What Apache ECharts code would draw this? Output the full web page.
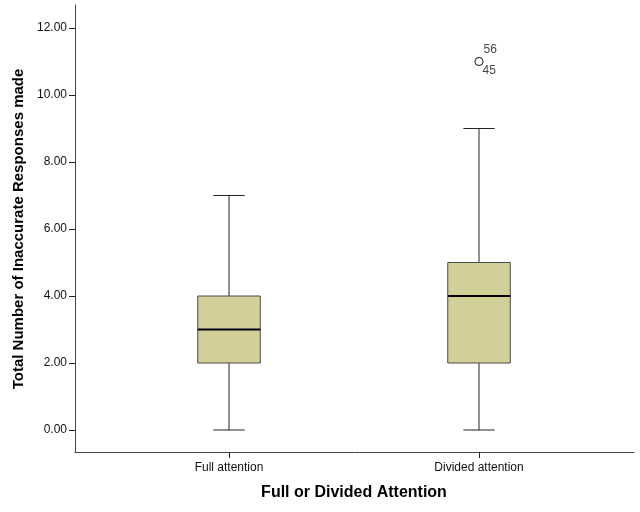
<!DOCTYPE html>
<html>
<head>
<meta charset="utf-8">
<script src="https://cdn.jsdelivr.net/npm/echarts@6/dist/echarts.min.js"></script>
<style>
  html, body { margin: 0; padding: 0; background: #fff; }
  #chart { width: 640px; height: 512px; }
</style>
</head>
<body>
<div id="chart"></div>
<script>
// groups on the x axis
var categories = ['Full attention', 'Divided attention'];
// five-number summaries: min, Q1, median, Q3, max
var mins = [0, 0];
var q1s = [2, 2];
var medians = [3, 4];
var q3s = [4, 5];
var maxs = [7, 9];
// outliers (group index, value, case number)
var outlierGroup = [1, 1];
var outlierValues = [11, 11];
var outlierCases = ['56', '45'];
// y tick range
var yMin = 0, yMax = 12, yStep = 2;

var boxData = categories.map(function (c, i) {
    return [i, mins[i], q1s[i], medians[i], q3s[i], maxs[i]];
});

// label offsets for the two stacked outlier labels
var outlierLabelPos = [[9, -7], [8, 14]];
var outlierData = outlierValues.map(function (v, i) {
    return {
        value: [categories[outlierGroup[i]], v],
        label: { show: true, formatter: outlierCases[i], position: outlierLabelPos[i] }
    };
});

function renderBox(params, api) {
    var x = api.value(0);
    var band = api.size([1, 0])[0];
    var boxW = band * 0.25;
    var capW = boxW / 2;
    var pMin = api.coord([x, api.value(1)]);
    var pQ1 = api.coord([x, api.value(2)]);
    var pMed = api.coord([x, api.value(3)]);
    var pQ3 = api.coord([x, api.value(4)]);
    var pMax = api.coord([x, api.value(5)]);
    var cx = pMed[0];
    var line = { stroke: '#222', lineWidth: 1 };
    return {
        type: 'group',
        children: [
            { type: 'line', shape: { x1: cx, y1: pQ3[1], x2: cx, y2: pMax[1] }, style: line },
            { type: 'line', shape: { x1: cx, y1: pQ1[1], x2: cx, y2: pMin[1] }, style: line },
            { type: 'line', shape: { x1: cx - capW / 2, y1: pMax[1], x2: cx + capW / 2, y2: pMax[1] }, style: line },
            { type: 'line', shape: { x1: cx - capW / 2, y1: pMin[1], x2: cx + capW / 2, y2: pMin[1] }, style: line },
            {
                type: 'rect',
                shape: { x: cx - boxW / 2, y: pQ3[1], width: boxW, height: pQ1[1] - pQ3[1] },
                style: { fill: '#d3cf98', stroke: '#4a4a4a', lineWidth: 1 }
            },
            { type: 'line', shape: { x1: cx - boxW / 2, y1: pMed[1], x2: cx + boxW / 2, y2: pMed[1] }, style: { stroke: '#000', lineWidth: 2 } }
        ]
    };
}

var myChart = echarts.init(document.getElementById('chart'));

myChart.setOption({
    animation: false,
    textStyle: { fontFamily: 'Liberation Sans, Arial, sans-serif' },
    grid: [
        { left: 104, right: 36, top: 28, bottom: 82 },   // data area
        { left: 75, right: 6, top: 5, bottom: 60 }       // frame with axis lines
    ],
    xAxis: [
        {
            type: 'category',
            gridIndex: 0,
            data: categories,
            offset: 22,
            axisLine: { show: false, onZero: false },
            axisTick: { show: true, alignWithLabel: true, length: 6, lineStyle: { color: '#222' } },
            axisLabel: { color: '#111', fontSize: 12, margin: 10 },
            name: 'Full or Divided Attention',
            nameLocation: 'middle',
            nameGap: 33,
            nameTextStyle: { color: '#000', fontSize: 16, fontWeight: 'bold' }
        },
        {
            type: 'value',
            gridIndex: 1,
            min: 0,
            max: 1,
            axisLine: { show: true, lineStyle: { color: '#444' } },
            axisTick: { show: false },
            axisLabel: { show: false },
            splitLine: { show: false }
        }
    ],
    yAxis: [
        {
            type: 'value',
            gridIndex: 0,
            min: yMin,
            max: yMax,
            interval: yStep,
            offset: 29,
            axisLine: { show: false, onZero: false },
            axisTick: { show: true, length: 6, lineStyle: { color: '#222' } },
            axisLabel: {
                color: '#111',
                fontSize: 12,
                margin: 8,
                formatter: function (v) { return v.toFixed(2); }
            },
            splitLine: { show: false },
            name: 'Total Number of Inaccurate Responses made',
            nameLocation: 'middle',
            nameRotate: 90,
            nameGap: 47,
            nameTextStyle: { color: '#000', fontSize: 15, fontWeight: 'bold' }
        },
        {
            type: 'value',
            gridIndex: 1,
            min: 0,
            max: 1,
            axisLine: { show: true, lineStyle: { color: '#444' } },
            axisTick: { show: false },
            axisLabel: { show: false },
            splitLine: { show: false }
        }
    ],
    series: [
        {
            type: 'custom',
            xAxisIndex: 0,
            yAxisIndex: 0,
            renderItem: renderBox,
            encode: { x: 0, y: [1, 2, 3, 4, 5] },
            data: boxData
        },
        {
            type: 'scatter',
            xAxisIndex: 0,
            yAxisIndex: 0,
            symbol: 'circle',
            symbolSize: 8,
            itemStyle: { color: '#fff', borderColor: '#111', borderWidth: 1 },
            label: { color: '#111', fontSize: 12, verticalAlign: 'middle' },
            data: outlierData
        }
    ]
});
</script>
</body>
</html>
